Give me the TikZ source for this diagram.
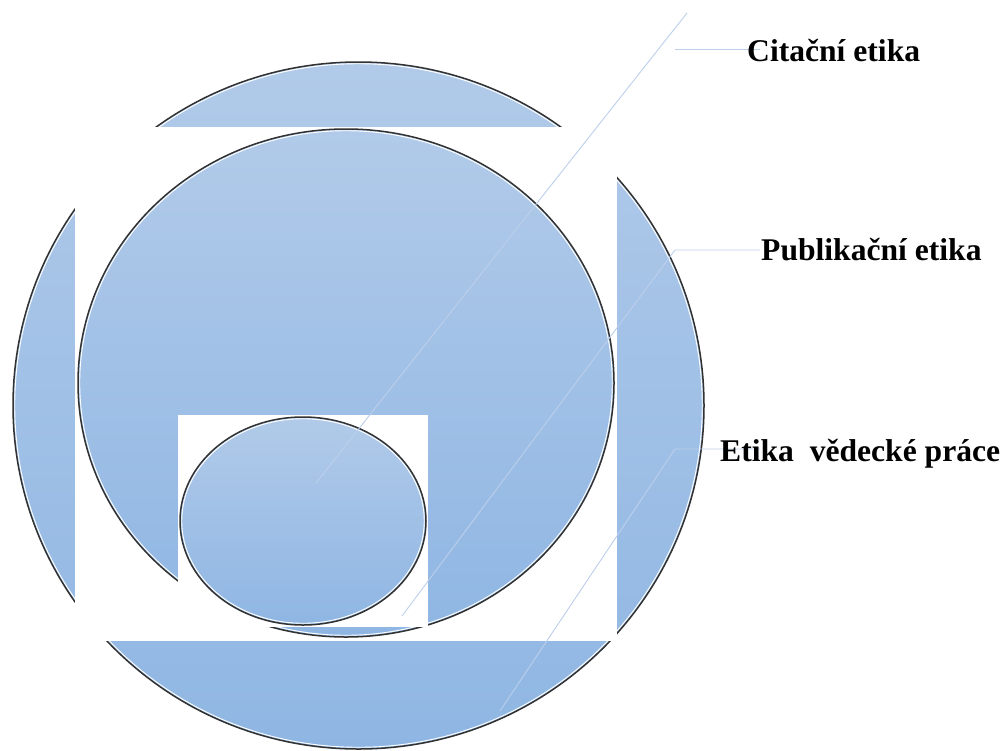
\documentclass[tikz,border=0pt]{standalone}
\usepackage{fontspec}
\setmainfont{Liberation Serif}
\usetikzlibrary{shapes.geometric}
\definecolor{blueTop}{RGB}{177,202,233}
\definecolor{blueBot}{RGB}{143,182,227}
\definecolor{leadercol}{RGB}{188,207,235}
\definecolor{rimdark}{RGB}{50,50,50}
\tikzset{
  disc/.style={ellipse, inner sep=0pt, outer sep=0pt, top color=blueTop, bottom color=blueBot, draw=rimdark, line width=1.5pt},
  rim/.style={ellipse, inner sep=0pt, outer sep=0pt, draw=white, line width=0.9pt},
  mask/.style={rectangle, fill=white, draw=none, inner sep=0pt, outer sep=0pt},
  leaderline/.style={draw=leadercol, line width=0.9pt},
  tag/.style={font=\bfseries\fontsize{31.6}{36}\selectfont, anchor=base west, inner sep=0pt, text=black}
}
\begin{document}
\begin{tikzpicture}[x=1pt,y=-1pt]
\useasboundingbox (0,0) rectangle (1008,750);
% outer circle
\node[disc, minimum width=691pt, minimum height=687pt] (big) at (358.5,405.5) {};
\node[rim, minimum width=687.5pt, minimum height=683.5pt] (bigrim) at (358.5,405.5) {};
% white mask behind middle circle
\node[mask, minimum width=542pt, minimum height=514pt] (maskA) at (346,384) {};
% middle circle
\node[disc, minimum width=536pt, minimum height=508pt] (mid) at (346,383) {};
\node[rim, minimum width=532.5pt, minimum height=504.5pt] (midrim) at (346,383) {};
% white mask behind small ellipse
\node[mask, minimum width=250pt, minimum height=212pt] (maskB) at (303,521) {};
% small ellipse
\node[disc, minimum width=246pt, minimum height=208pt] (small) at (303,521) {};
\node[rim, minimum width=242.5pt, minimum height=204.5pt] (smallrim) at (303,521) {};
% leader lines
\coordinate (s1) at (316,483);
\coordinate (e1) at (687,13);
\coordinate (h1a) at (675,49);
\coordinate (h1b) at (760,49);
\coordinate (s2) at (402,616);
\coordinate (k2) at (675,250);
\coordinate (h2b) at (760,250);
\coordinate (s3) at (500,711);
\coordinate (k3) at (675,449);
\coordinate (h3b) at (760,449);
\draw[leaderline] (s1) -- (e1);
\draw[leaderline] (h1a) -- (h1b);
\draw[leaderline] (s2) -- (k2) -- (h2b);
\draw[leaderline] (s3) -- (k3) -- (h3b);
% labels
\node[tag] (t1) at (747,61) {Citační etika};
\node[tag] (t2) at (761,260.5) {Publikační etika};
\node[tag] (t3) at (720,461) {Etika\ \ vědecké práce};
\end{tikzpicture}
\end{document}
